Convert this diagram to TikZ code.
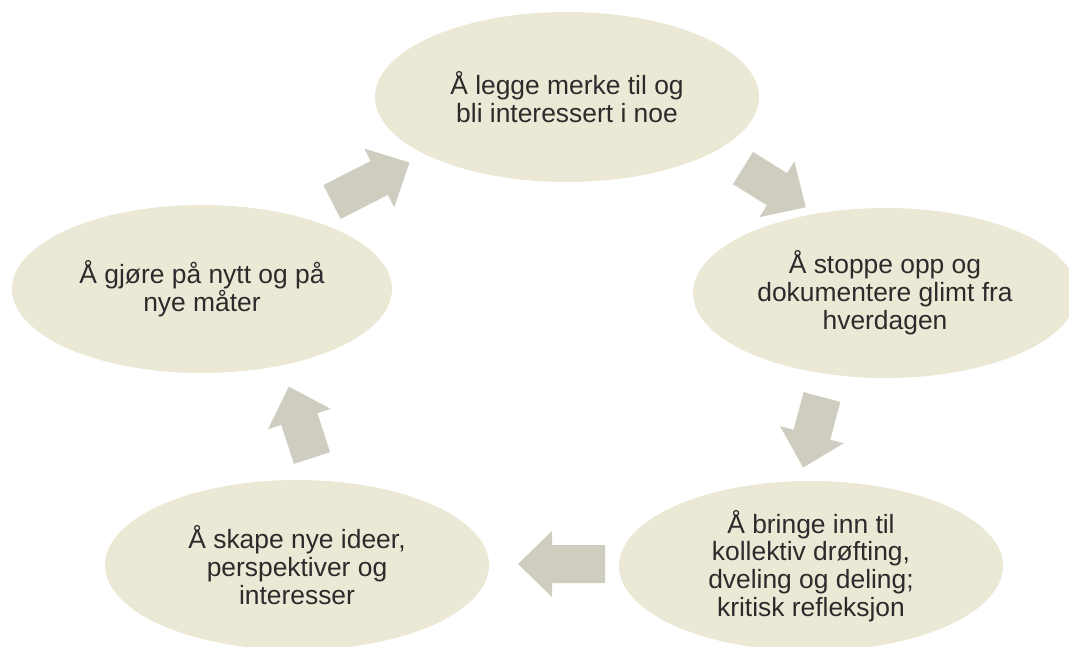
\documentclass[tikz,border=0pt]{standalone}
\usepackage{fontspec}
\setmainfont{Liberation Sans}
\usetikzlibrary{shapes.geometric}
\definecolor{ellfill}{HTML}{EBE8D6}
\definecolor{arrowfill}{HTML}{CFCDBF}
\definecolor{txt}{HTML}{2B2B2B}
\tikzset{
  stage/.style={ellipse, fill=ellfill, draw=none, inner sep=0pt,
    minimum width=384pt, minimum height=170pt, align=center,
    text=txt, font=\fontsize{26.4}{27.8}\selectfont},
  barrow/.pic={\fill[arrowfill] (0,-19) -- (#1-34,-19) -- (#1-34,-33) -- (#1,0)
     -- (#1-34,33) -- (#1-34,19) -- (0,19) -- cycle;}
}
\begin{document}
\begin{tikzpicture}[x=1pt,y=-1pt]
\useasboundingbox (0,0) rectangle (1069,646);
\clip (0,0) rectangle (1069,646);
\node[stage] (top) at (567,97) {Å legge merke til og\\bli interessert i noe};
\node[stage] (right) at (885,293) {Å stoppe opp og\\dokumentere glimt fra\\hverdagen};
\node[stage] (br) at (811,566) {Å bringe inn til\\kollektiv drøfting,\\dveling og deling;\\kritisk refleksjon};
\node[stage] (bl) at (297,565) {Å skape nye ideer,\\perspektiver og\\interesser};
\node[stage, minimum width=380pt, minimum height=168pt] (left) at (202,289) {Å gjøre på nytt og på\\nye måter};
\pic[rotate=27] at (332,202) {barrow=87};
\pic[rotate=-32] at (743,168) {barrow=74};
\pic[rotate=-105] at (822,397) {barrow=73};
\pic[rotate=180] at (605,564) {barrow=87};
\pic[rotate=108] at (312,458) {barrow=75};
\end{tikzpicture}
\end{document}
